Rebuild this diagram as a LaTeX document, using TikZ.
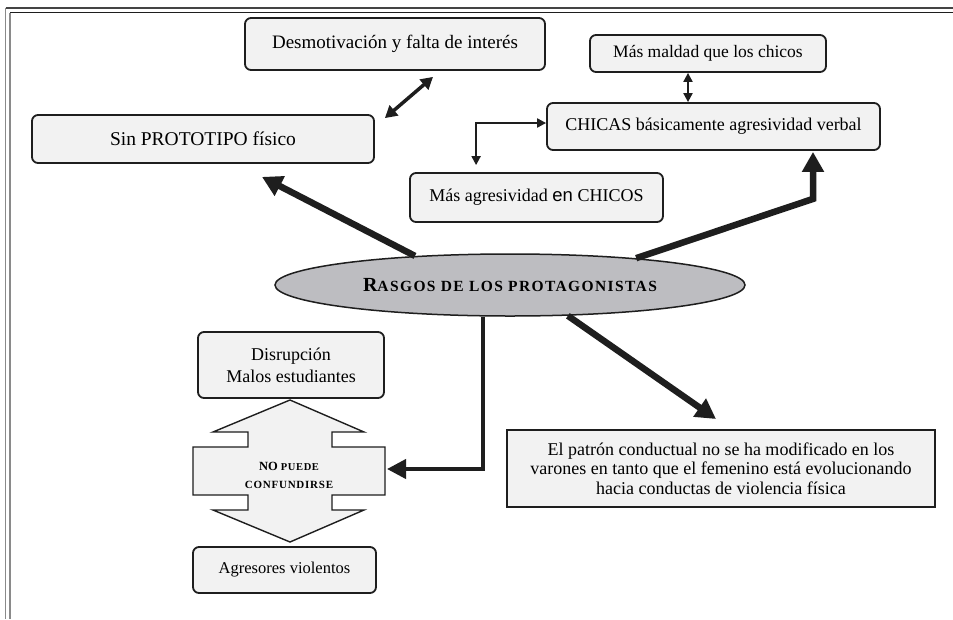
\documentclass[tikz,border=0pt]{standalone}
\usepackage{fontspec}
\setmainfont{Liberation Serif}
\newfontfamily\sansen{Liberation Sans}
\usetikzlibrary{arrows.meta,shapes.geometric,calc}
\definecolor{boxfill}{HTML}{F2F2F2}
\definecolor{ink}{HTML}{1E1E1E}
\definecolor{ovalfill}{HTML}{BDBDC1}
\definecolor{framedark}{HTML}{444444}
\definecolor{framegray}{HTML}{8A8A8A}
\newcommand{\fs}[2]{\fontsize{#1}{#2}\selectfont}
\begin{document}
\begin{tikzpicture}[x=1pt,y=-1pt,
  rbox/.style={draw=ink, line width=1.8pt, fill=boxfill, rounded corners=6pt,
    inner sep=0pt, align=center},
  sbox/.style={draw=ink, line width=2pt, fill=boxfill, inner sep=0pt, align=center},
  heavy/.style={draw=ink, line width=6.5pt, -{Triangle[length=20pt,width=21pt]}},
  medium/.style={draw=ink, line width=4pt, -{Triangle[length=19pt,width=19pt]}},
  twohead/.style={draw=ink, line width=3.5pt, {Triangle[length=12pt,width=13pt]}-{Triangle[length=12pt,width=13pt]}},
  lighttwo/.style={draw=ink, line width=2pt, {Triangle[length=9pt,width=9pt]}-{Triangle[length=9pt,width=9pt]}},
]
\useasboundingbox (0,0) rectangle (953,619);
\fill[white] (0,0) rectangle (953,619);

% page frame (double rule on top and left)
\draw[framedark, line width=1.6pt] (5.5,8) -- (953,8);
\draw[ink, line width=1.6pt] (10,12.5) -- (953,12.5);
\draw[framegray, line width=1.8pt] (5.5,8) -- (5.5,619);
\draw[framegray, line width=1.8pt] (10,12.5) -- (10,619);

% boxes
\node[rbox, minimum width=300pt, minimum height=52pt, font=\fs{19}{22}] (desm) at (395,44)
  {Desmotivación y falta de interés};
\node[rbox, minimum width=236pt, minimum height=37pt, font=\fs{17.5}{20}] (maldad) at (708,53.5)
  {Más maldad que los chicos};
\node[rbox, minimum width=342pt, minimum height=48pt, font=\fs{19.5}{22}] (sinproto) at (203,139)
  {Sin PROTOTIPO físico};
\node[rbox, minimum width=333pt, minimum height=47pt, font=\fs{18}{21}] (chicas) at (713.5,126.5)
  {CHICAS básicamente agresividad verbal};
\node[rbox, minimum width=253pt, minimum height=49pt, font=\fs{18}{21}] (masag) at (536.5,197.5)
  {Más agresividad {\sansen\fs{18.5}{21}en} CHICOS};
\node[draw=ink, line width=1.5pt, fill=ovalfill, ellipse, inner sep=0pt,
  minimum width=470pt, minimum height=62pt, font=\bfseries] (ell) at (510,285)
  {{\fs{20}{22}R}{\fs{15.5}{22}\addfontfeature{LetterSpace=9}ASGOS DE LOS PROTAGONISTAS}};
\node[rbox, minimum width=186pt, minimum height=66pt, font=\fs{18}{22}] (disr) at (291,365)
  {Disrupción\\Malos estudiantes};
\node[rbox, minimum width=183pt, minimum height=46pt, font=\fs{16.5}{20}] (agres) at (284.5,570)
  {Agresores violentos};
\node[sbox, minimum width=428pt, minimum height=77pt, font=\fs{18}{19.5}] (patron) at (721,468.5)
  {El patrón conductual no se ha modificado en los\\
   varones en tanto que el femenino está evolucionando\\
   hacia conductas de violencia física};

% notched double arrow between the two lower boxes
\draw[ink, line width=1.4pt, fill=boxfill, line join=miter]
  (290,400) -- (213,432) -- (248,432) -- (248,447) -- (193,447) -- (193,495)
  -- (248,495) -- (248,510) -- (213,510) -- (290,542) -- (364,510) -- (332,510)
  -- (332,495) -- (385,495) -- (385,447) -- (332,447) -- (332,432) -- (364,432)
  -- cycle;
\node[align=center, inner sep=0pt, font=\bfseries\fs{12.5}{18}] (nopuede) at (289,475)
  {NO {\fs{10.5}{18}\addfontfeature{LetterSpace=6}PUEDE}\\
   {\fs{11}{18}\addfontfeature{LetterSpace=7}CONFUNDIRSE}};
\coordinate (dblright) at (387,469);

% connectors
\draw[twohead] ($(desm.south)+(38,6)$) -- ($(sinproto.north east)+(10,4)$);
\draw[lighttwo] ($(maldad.south)+(-20,0)$) -- ($(chicas.north)+(-25.5,0)$);
\draw[lighttwo, line join=miter] ($(masag.north west)+(67,-7)$) |- ($(chicas.west)+(0,-3.5)$);
\draw[heavy] (ell.163) -- ($(sinproto.south)+(59,13)$);
\draw[heavy, line join=miter] (ell.12.5) -- ($(chicas.south)+(99.5,48)$) -- ($(chicas.south)+(99.5,1)$);
\draw[heavy] (ell.-28) -- ($(patron.north)+(-5,-10)$);
\draw[medium, line join=miter] (ell.-131) |- (dblright);
\end{tikzpicture}
\end{document}
